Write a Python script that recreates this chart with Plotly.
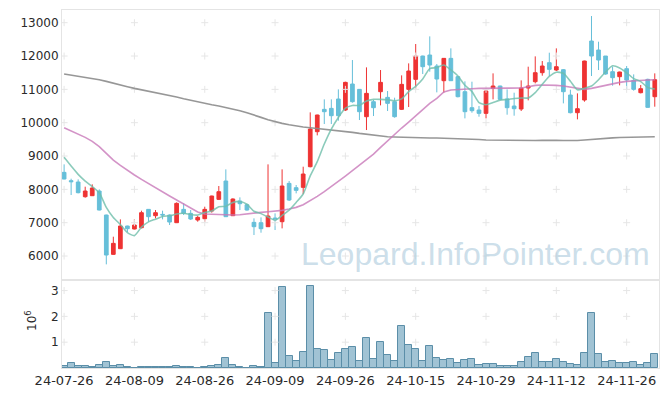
import plotly.graph_objects as go

dates = ["24-07-26","24-07-29","24-07-30","24-07-31","24-08-01","24-08-02","24-08-05","24-08-06","24-08-07","24-08-08",
         "24-08-09","24-08-12","24-08-13","24-08-14","24-08-16","24-08-19","24-08-20","24-08-21","24-08-22","24-08-23",
         "24-08-26","24-08-27","24-08-28","24-08-29","24-08-30","24-09-02","24-09-03","24-09-04","24-09-05","24-09-06",
         "24-09-09","24-09-10","24-09-11","24-09-12","24-09-13","24-09-19","24-09-20","24-09-23","24-09-24","24-09-25",
         "24-09-26","24-09-27","24-09-30","24-10-02","24-10-04","24-10-07","24-10-08","24-10-10","24-10-11","24-10-14",
         "24-10-15","24-10-16","24-10-17","24-10-18","24-10-21","24-10-22","24-10-23","24-10-24","24-10-25","24-10-28",
         "24-10-29","24-10-30","24-10-31","24-11-01","24-11-04","24-11-05","24-11-06","24-11-07","24-11-08","24-11-11",
         "24-11-12","24-11-13","24-11-14","24-11-15","24-11-18","24-11-19","24-11-20","24-11-21","24-11-22","24-11-25",
         "24-11-26","24-11-27","24-11-28","24-11-29","24-12-02"]

opens = [8510,8260,8220,7780,7810,7950,7230,6050,6220,6900,
         6810,6850,7400,7210,7250,7230,7000,7400,7280,7080,
         7120,7350,7700,8250,7210,7650,7540,7010,7000,6880,
         7140,7030,8180,8050,8060,8680,9730,10400,10430,10710,
         10380,11160,11000,10180,10630,10930,10760,10630,10400,11000,
         11300,12000,12030,11700,11260,11930,11380,10930,10450,10380,
         10280,11030,11100,10710,10500,10410,11040,11230,11500,11800,
         11580,11590,10830,10300,10680,12450,12180,12000,11530,11380,
         11620,11270,10900,11300,10780]
highs = [8750,8320,8300,8080,8150,8000,7240,6580,7100,6910,
         7110,7360,7410,7380,7360,7250,7610,7580,7380,7210,
         7480,7810,8100,8600,7730,7760,7570,7130,7160,8750,
         7280,8600,8250,8130,8680,10310,10240,10700,10700,11000,
         11230,11880,11010,11660,10680,11580,10950,10750,11420,11780,
         12360,12010,12590,11760,11940,12230,11400,11240,11230,10500,
         10980,11480,11110,11000,10900,11270,11680,11990,11850,12100,
         12230,11610,10990,10880,11860,13200,12430,12000,11680,11530,
         11700,11450,11130,11320,11480]
lows = [8300,7830,7880,7750,7800,7370,5750,6040,6210,6720,
        6800,6830,7030,7130,7100,6930,6990,7230,7080,7030,
        7030,7300,7680,7170,7200,7380,7360,6630,6700,6870,
        6780,6830,7650,7880,7860,8660,9620,9960,9960,10060,
        10350,10600,10080,9780,10200,10520,10350,10150,10380,10470,
        11020,11460,11530,10910,10900,11250,10760,10130,10300,10180,
        10130,10700,10690,10240,10210,10350,10670,11180,11410,11400,
        11550,10580,10280,10100,10630,11400,11580,11440,11110,11120,
        10990,10960,10880,10450,10480]
closes = [8310,8230,7900,7950,8040,7380,6030,6380,6900,6820,
          6930,7300,7180,7300,7230,7020,7580,7280,7110,7160,
          7400,7800,7930,7180,7710,7570,7380,6880,6820,7200,
          7090,8100,7680,7970,8460,9810,10230,10330,10210,10210,
          11210,10630,10330,10880,10450,11210,10580,10180,11150,11550,
          12000,11680,11730,11310,11930,11260,10780,10330,10360,10280,
          10950,11100,10700,10450,10420,11040,11100,11500,11700,11600,
          11680,10930,10300,10420,11850,12000,11880,11460,11350,11520,
          11280,11000,11020,10460,11290]

# volume in millions of shares
volume_m = [0.08,0.19,0.08,0.08,0.04,0.12,0.23,0.08,0.12,0.04,
            0.01,0.03,0.03,0.03,0.03,0.03,0.07,0.04,0.04,0.01,
            0.04,0.07,0.12,0.39,0.12,0.04,0.01,0.08,0.04,2.12,
            0.19,3.12,0.47,0.27,0.62,3.16,0.74,0.68,0.32,0.58,
            0.75,0.82,0.27,1.17,0.35,1.01,0.51,0.27,1.64,0.90,
            0.74,0.27,0.86,0.39,0.31,0.35,0.19,0.31,0.35,0.12,
            0.16,0.16,0.08,0.08,0.08,0.23,0.43,0.58,0.23,0.23,
            0.35,0.23,0.16,0.12,0.58,2.14,0.55,0.23,0.27,0.19,
            0.19,0.23,0.12,0.19,0.55]

# first values of the 5-day average (need closes before the window)
ma5_head = [8960, 8700, 8450, 8250]

ma20 = [9850,9760,9660,9560,9440,9280,9080,8880,8720,8570,
        8430,8300,8170,8050,7920,7800,7680,7560,7440,7320,
        7260,7250,7240,7230,7230,7240,7270,7290,7310,7330,
        7340,7370,7410,7460,7540,7660,7790,7930,8080,8250,
        8400,8560,8720,8880,9060,9260,9460,9650,9840,10020,
        10200,10390,10580,10730,10920,10980,11000,11010,11020,11030,
        11030,11030,11030,11030,11030,11040,11080,11120,11130,11130,
        11120,11100,11060,11020,11000,11030,11080,11130,11170,11210,
        11240,11260,11270,11280,11290]

ma120 = [11460,11430,11400,11370,11340,11290,11240,11180,11130,11080,
         11030,10990,10950,10910,10870,10820,10770,10720,10670,10620,
         10580,10540,10500,10460,10410,10360,10300,10240,10160,10090,
         10030,9980,9940,9900,9870,9850,9830,9810,9790,9760,
         9740,9710,9680,9650,9620,9600,9580,9570,9560,9555,
         9550,9545,9540,9540,9535,9530,9525,9520,9510,9495,
         9480,9475,9470,9465,9460,9460,9460,9465,9470,9480,
         9475,9465,9460,9465,9480,9500,9520,9535,9545,9555,
         9560,9565,9570,9575,9580]

price_ticks = [6000, 7000, 8000, 9000, 10000, 11000, 12000, 13000]
vol_ticks = [1, 2, 3]
xtick_idx = list(range(0, 85, 10))

n = len(dates)
xs = list(range(n))
ma5 = ma5_head + [sum(closes[i-4:i+1]) / 5 for i in range(4, n)]
volume = [v * 1e6 for v in volume_m]

RED = "#ee3333"
BLUE = "#66bfd9"
FONT = "DejaVu Sans"
GRIDC = "#e6e6e6"
FRAME = "#e4e4e4"
TXT = "#2a2a2a"

fig = go.Figure()

# grid crosses at tick intersections
gx, gy = [], []
for xi in xtick_idx:
    for p in price_ticks:
        gx.append(xi); gy.append(p)
fig.add_trace(go.Scatter(x=gx, y=gy, mode="markers", xaxis="x", yaxis="y",
                         marker=dict(symbol="cross-thin", size=5, line=dict(width=1, color=GRIDC)),
                         hoverinfo="skip", showlegend=False))
gx2, gy2 = [], []
for xi in xtick_idx:
    for v in vol_ticks:
        gx2.append(xi); gy2.append(v * 1e6)
fig.add_trace(go.Scatter(x=gx2, y=gy2, mode="markers", xaxis="x2", yaxis="y2",
                         marker=dict(symbol="cross-thin", size=5, line=dict(width=1, color=GRIDC)),
                         hoverinfo="skip", showlegend=False))

fig.add_trace(go.Candlestick(x=xs, open=opens, high=highs, low=lows, close=closes,
                             xaxis="x", yaxis="y",
                             increasing=dict(line=dict(color=RED, width=1), fillcolor=RED),
                             decreasing=dict(line=dict(color=BLUE, width=1), fillcolor=BLUE),
                             whiskerwidth=0, showlegend=False))

fig.add_trace(go.Scatter(x=xs, y=ma120, mode="lines", xaxis="x", yaxis="y",
                         line=dict(color="rgba(140,140,140,0.9)", width=1.6), showlegend=False))
fig.add_trace(go.Scatter(x=xs, y=ma20, mode="lines", xaxis="x", yaxis="y",
                         line=dict(color="rgba(200,120,185,0.8)", width=1.6), showlegend=False))
fig.add_trace(go.Scatter(x=xs, y=ma5, mode="lines", xaxis="x", yaxis="y",
                         line=dict(color="rgba(110,190,170,0.8)", width=1.6, shape="spline", smoothing=0.6),
                         showlegend=False))

fig.add_trace(go.Bar(x=xs, y=volume, xaxis="x2", yaxis="y2",
                     marker=dict(color="rgba(125,172,196,0.72)", line=dict(color="#5b8ea8", width=1)),
                     showlegend=False))

axis_common = dict(showgrid=False, zeroline=False, showline=True, mirror=True,
                   linecolor=FRAME, linewidth=1, ticks="", automargin=False)

fig.update_layout(
    width=665, height=396,
    margin=dict(l=62, r=6, t=10, b=28, autoexpand=False),
    paper_bgcolor="white", plot_bgcolor="white",
    font=dict(family=FONT, size=12, color=TXT),
    bargap=0, boxgap=0.25,
    showlegend=False,
    xaxis=dict(domain=[0, 1], range=[-0.3, 84.6], anchor="y", showticklabels=False,
               rangeslider=dict(visible=False), **axis_common),
    xaxis2=dict(domain=[0, 1], range=[-0.3, 84.6], anchor="y2",
                tickvals=xtick_idx, ticktext=[dates[i] for i in xtick_idx],
                tickfont=dict(family=FONT, size=13, color=TXT), **axis_common),
    yaxis=dict(domain=[0.2486, 1], range=[5311, 13381], anchor="x",
               tickvals=price_ticks, ticktext=[str(p) for p in price_ticks],
               tickfont=dict(family=FONT, size=12, color=TXT), **axis_common),
    yaxis2=dict(domain=[0, 0.243], range=[0, 3.37e6], anchor="x2",
                tickvals=[v * 1e6 for v in vol_ticks], ticktext=[str(v) for v in vol_ticks],
                tickfont=dict(family=FONT, size=12, color=TXT), **axis_common),
    annotations=[
        dict(text="Leopard.InfoPointer.com", xref="paper", yref="paper",
             x=0.692, y=0.318, xanchor="center", yanchor="middle", showarrow=False,
             font=dict(family="Liberation Sans", size=32, color="rgba(175,205,222,0.65)")),
        dict(text="10<sup>6</sup>", xref="paper", yref="paper",
             x=-0.052, y=0.134, xanchor="center", yanchor="middle", showarrow=False, textangle=-90,
             font=dict(family=FONT, size=12, color=TXT)),
    ],
)

fig.write_html("out.html", config={"displayModeBar": False},
               post_script="document.body.style.margin='0px';document.body.style.overflow='hidden';")
